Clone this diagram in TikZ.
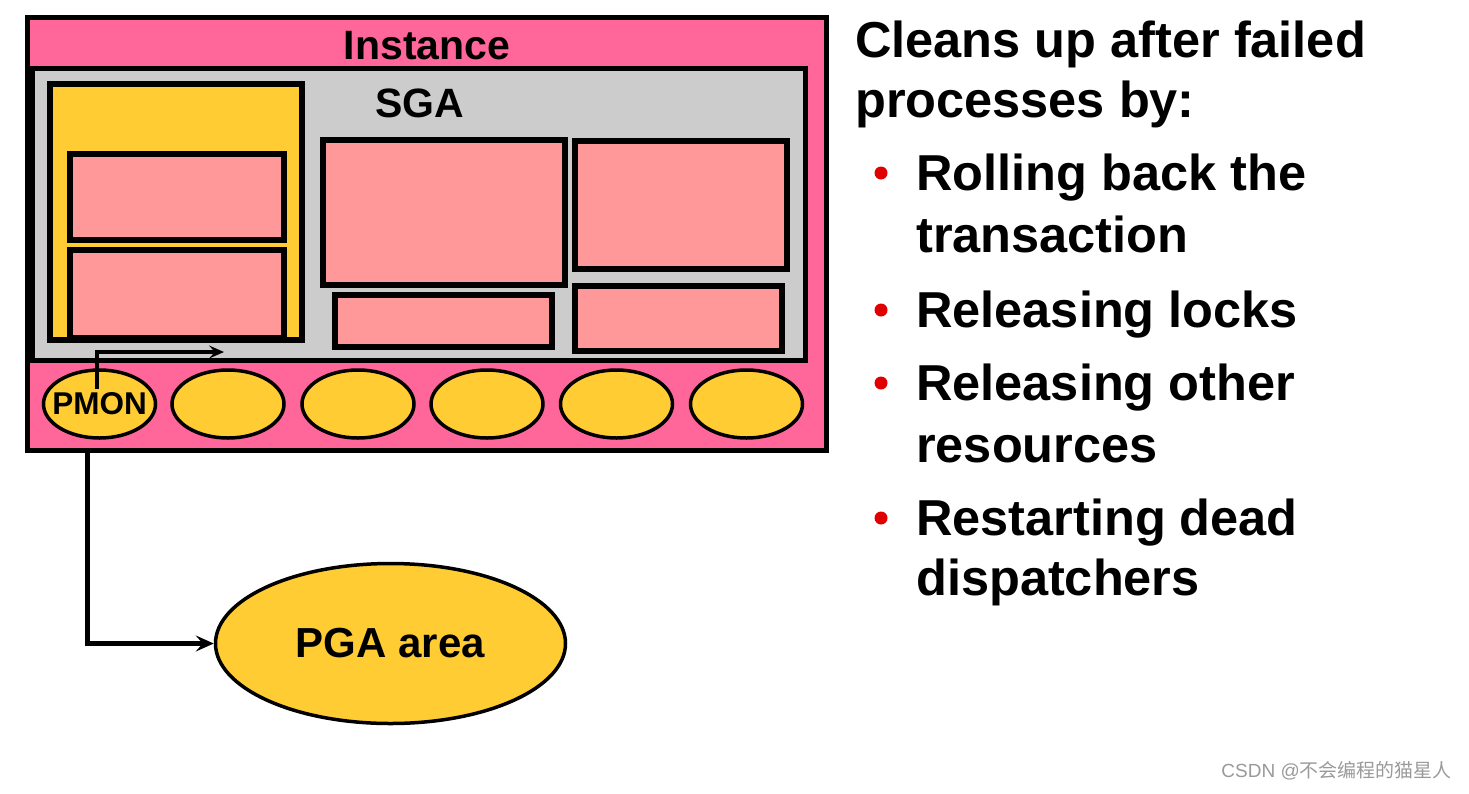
\documentclass[tikz,border=0pt]{standalone}
\usepackage{fontspec}
\setmainfont{Liberation Sans}
\newfontfamily\cjk{Noto Sans CJK SC}
\usetikzlibrary{shapes.geometric,arrows.meta}
\definecolor{bandpink}{HTML}{FF6699}
\definecolor{sgagray}{HTML}{CCCCCC}
\definecolor{procyellow}{HTML}{FFCC33}
\definecolor{salmon}{HTML}{FF9999}
\definecolor{bulletred}{HTML}{E00000}
\definecolor{wmgray}{HTML}{9A9A9A}
\tikzset{
  boxnode/.style={draw=black, rectangle, inner sep=0pt, outer sep=0pt},
  outerbox/.style={boxnode, fill=bandpink, line width=5pt},
  sgabox/.style={boxnode, fill=sgagray, line width=5pt},
  ybox/.style={boxnode, fill=procyellow, line width=6pt},
  membox/.style={boxnode, fill=salmon, line width=6pt},
  proc/.style={draw=black, ellipse, fill=procyellow, line width=3.5pt, inner sep=0pt,
    minimum width=112pt, minimum height=68pt},
  proclabel/.style={inner sep=0pt, font=\fontsize{31.5}{38}\selectfont\bfseries},
  pgaell/.style={draw=black, ellipse, fill=procyellow, line width=3.5pt, inner sep=0pt,
    minimum width=350pt, minimum height=160pt},
  pgalabel/.style={inner sep=0pt, font=\fontsize{42}{50}\selectfont\bfseries},
  boxlabel/.style={inner sep=0pt, font=\fontsize{41}{48}\selectfont\bfseries},
  bodytext/.style={inner sep=0pt, anchor=base west, font=\fontsize{50.5}{60}\selectfont\bfseries},
  dot/.style={circle, fill=bulletred, inner sep=0pt, minimum size=13pt},
  connector/.style={draw=black, line width=5pt, -{Stealth[length=18pt,width=16pt,inset=7pt]}},
  smallconn/.style={draw=black, line width=3.5pt, -{Stealth[length=15pt,width=13pt,inset=6pt]}}
}
\begin{document}
\begin{tikzpicture}[x=1pt,y=-1pt]
\useasboundingbox (0,0) rectangle (1469,793);
\fill[white] (0,0) rectangle (1469,793);

% Instance and SGA
\node[outerbox, minimum width=799pt, minimum height=432.5pt] (inst) at (427,233.75) {};
\node[sgabox, minimum width=773.5pt, minimum height=291.5pt] (sga) at (418.75,214.25) {};
\node[boxlabel, anchor=base] (instlbl) at (427,59) {Instance};
\node[boxlabel, anchor=base west] (sgalbl) at (375,117) {SGA};

% yellow area with two memory boxes
\node[ybox, minimum width=251.5pt, minimum height=256.5pt] (ybuf) at (175.75,211.75) {};
\node[membox, minimum width=213.5pt, minimum height=86.5pt] (m1) at (176.75,196.75) {};
\node[membox, minimum width=213.5pt, minimum height=88pt] (m2) at (176.75,294) {};

% other SGA memory boxes
\node[membox, minimum width=242.5pt, minimum height=145pt] (m3) at (443.75,212.5) {};
\node[membox, minimum width=217pt, minimum height=51.5pt] (m4) at (443.5,320.75) {};
\node[membox, minimum width=212.5pt, minimum height=128pt] (m5) at (680.75,205) {};
\node[membox, minimum width=207pt, minimum height=65pt] (m6) at (678.5,318.5) {};

% background processes
\node[proc] (pmon) at (99.5,404) {};
\node[proc] (p2) at (228,404) {};
\node[proc] (p3) at (358,404) {};
\node[proc] (p4) at (487,404) {};
\node[proc] (p5) at (616.5,404) {};
\node[proc] (p6) at (746.5,404) {};

% small arrow from PMON into SGA
\coordinate (sa) at (97,389);
\coordinate (sb) at (224,352);
\draw[smallconn] (sa) |- (sb);
\node[proclabel] (pmonlbl) at (pmon.center) {PMON};

% PGA
\node[pgaell] (pga) at (390.5,643.5) {};
\node[pgalabel] (pgalbl) at (pga.center) {PGA area};
\coordinate (cstart) at (87,450);
\draw[connector] (cstart) |- (pga.west);

% right-hand text
\node[bodytext] (t1) at (855,57) {Cleans up after failed};
\node[bodytext] (t2) at (855,117) {processes by:};
\node[dot] (d1) at (881,173) {};
\node[bodytext] (t3) at (916,190) {Rolling back the};
\node[bodytext] (t4) at (916,252) {transaction};
\node[dot] (d2) at (881,310) {};
\node[bodytext] (t5) at (916,327) {Releasing locks};
\node[dot] (d3) at (881,383) {};
\node[bodytext] (t6) at (916,400) {Releasing other};
\node[bodytext] (t7) at (916,462) {resources};
\node[dot] (d4) at (881,518) {};
\node[bodytext] (t8) at (916,535) {Restarting dead};
\node[bodytext] (t9) at (916,595) {dispatchers};

% watermark
\node[inner sep=0pt, anchor=base east, text=wmgray, font=\fontsize{19}{22}\selectfont] (wm) at (1452,777) {CSDN @{\cjk 不会编程的猫星人}};
\end{tikzpicture}
\end{document}
